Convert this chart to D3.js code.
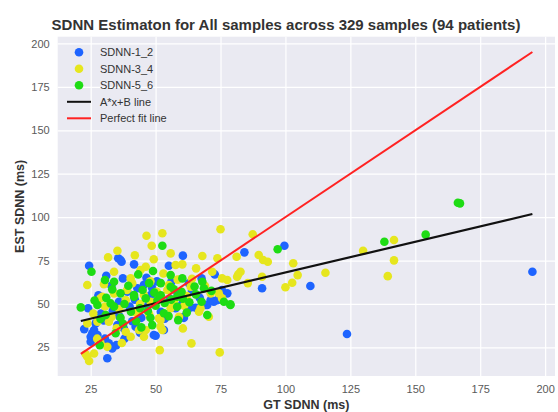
<!DOCTYPE html>
<html>
<head>
<meta charset="utf-8">
<script src="https://cdn.jsdelivr.net/npm/d3@7"></script>
<style>
  body {margin: 0; background: #fff; font-family: 'Liberation Sans', Arial, sans-serif;}
</style>
</head>
<body>
<div id='graph'></div>
<script>

var title = 'SDNN Estimaton for All samples across 329 samples (94 patients)'
var xTicks = [25, 50, 75, 100, 125, 150, 175, 200]
var yTicks = [25, 50, 75, 100, 125, 150, 175, 200]

// [GT, EST] pairs
var sdnn12 = [[195.1,68.5],[123.7,32.7],[109.6,60.3],[99.6,83.5],[91.0,59.0],[84.2,79.7],[60.5,77.8],[55.1,72.0],[72.8,67.0],[67.7,64.7],[62.8,61.9],[77.6,56.1],[35.6,76.3],[36.9,74.3],[24.4,72.0],[41.7,72.8],[46.5,65.1],[31.0,66.2],[37.4,64.7],[43.0,59.0],[39.1,57.0],[48.7,59.0],[48.1,55.1],[35.9,51.3],[26.3,35.0],[27.6,32.1],[25.0,31.1],[25.0,28.2],[32.0,27.3],[34.9,26.3],[33.3,24.4],[31.4,18.7],[49.3,32.1],[42.3,36.9],[35.3,37.8],[37.8,35.9],[25.6,33.1],[26.9,38.8],[53.2,35.0],[60.9,42.0],[62.8,47.8],[65.4,47.8],[69.9,49.4],[72.4,51.3],[71.2,52.2],[57.7,47.5],[60.3,50.3],[50.0,31.7],[73.7,52.2],[69.2,49.4],[60.3,42.3],[63.5,48.0],[36.5,75.3],[29.0,44.5],[33.5,46.0],[40.0,48.5],[44.5,42.0],[52.0,45.5],[55.5,53.0],[47.0,49.0],[30.0,40.5],[38.0,30.0],[41.0,40.0],[58.5,56.0],[64.0,57.5],[45.5,61.0],[28.0,55.0],[50.5,63.0],[67.0,53.5],[33.0,60.5],[53.5,41.5],[22.5,35.5],[24.0,47.5],[75.5,58.0],[44.0,33.5],[36.0,43.0],[30.5,30.0],[56.0,62.5],[42.0,52.5]]

var sdnn34 = [[87.4,90.1],[81.2,77.2],[89.7,78.2],[91.4,75.3],[93.2,74.3],[82.7,68.5],[81.8,67.0],[91.0,65.7],[103.0,73.4],[104.7,66.6],[100.0,59.6],[102.6,62.2],[115.4,68.0],[129.9,80.6],[141.8,86.8],[141.8,75.1],[139.4,66.0],[75.0,93.0],[52.6,90.7],[46.5,89.3],[48.5,83.5],[55.8,79.1],[68.0,77.6],[73.8,76.3],[35.3,80.6],[31.7,76.8],[49.3,75.7],[57.7,72.4],[60.3,72.8],[65.6,70.5],[71.8,68.5],[75.6,64.7],[77.6,63.8],[63.5,59.9],[55.1,60.9],[74.3,56.1],[71.2,56.1],[46.2,71.4],[44.2,69.5],[34.0,68.5],[30.1,61.3],[40.4,64.7],[41.0,61.9],[23.7,60.9],[34.0,56.1],[45.5,55.1],[29.5,54.1],[28.8,53.2],[38.5,52.2],[48.1,51.3],[23.7,38.8],[27.6,39.7],[32.0,39.7],[28.8,27.3],[31.4,25.3],[23.7,19.6],[24.4,17.1],[26.3,21.5],[23.1,21.0],[45.5,31.1],[43.6,35.0],[40.4,31.1],[38.5,34.0],[46.2,35.0],[51.6,23.4],[63.8,27.3],[74.7,22.1],[60.5,35.9],[52.6,35.0],[51.9,40.7],[59.0,42.6],[66.7,45.5],[70.5,42.6],[75.6,53.2],[55.8,47.5],[51.3,41.7],[51.9,36.9],[67.3,47.5],[54.5,58.0],[81.4,65.7],[36.0,47.0],[42.5,45.0],[33.0,42.5],[47.5,44.0],[57.0,51.5],[62.0,54.5],[39.0,58.0],[44.0,50.0],[30.5,48.5],[26.0,44.5],[35.0,36.0],[53.0,67.5],[58.5,64.0],[48.0,63.0],[64.0,64.5],[27.5,30.0],[37.0,27.5],[69.0,60.5],[85.5,62.0],[42.0,78.0],[50.5,57.0],[61.0,49.0]]

var sdnn56 = [[166.4,108.3],[167.2,107.9],[154.0,89.9],[138.1,85.8],[97.0,81.5],[78.8,49.4],[52.6,83.5],[49.0,69.0],[43.3,67.0],[25.3,68.5],[30.5,63.8],[34.0,62.8],[33.3,58.4],[36.5,56.1],[41.7,55.1],[21.2,48.0],[27.6,49.4],[32.7,50.3],[41.7,54.1],[46.2,53.2],[50.7,52.2],[28.8,41.3],[30.8,43.6],[28.5,26.3],[34.6,33.1],[48.7,37.8],[53.2,44.6],[58.7,40.7],[67.7,51.3],[69.9,43.6],[76.3,51.3],[78.8,49.8],[58.3,48.4],[55.8,66.6],[60.3,64.7],[68.0,62.8],[68.6,59.0],[58.3,54.1],[55.8,59.9],[38.0,50.0],[44.0,47.5],[47.0,46.0],[50.0,49.0],[53.5,50.5],[56.0,52.5],[60.5,53.0],[63.0,51.0],[65.5,55.5],[45.0,58.0],[49.5,56.5],[52.0,55.0],[40.5,45.5],[36.5,42.0],[42.5,40.0],[34.0,48.5],[31.0,53.5],[62.0,45.0],[57.0,58.5],[47.5,62.0],[39.5,60.5],[26.5,52.0],[71.5,57.5],[65.0,60.0],[44.5,36.5],[37.5,38.5],[55.0,43.0],[48.0,42.0],[52.0,62.0],[60.0,57.0]]

var seriesNames = ['SDNN-1_2', 'SDNN-3_4', 'SDNN-5_6']
var seriesColors = ['#1e64ff', '#e6e61e', '#1edc14']
var fitA = 0.354, fitB = 32.7

var width = 558, height = 412
var margin = {left: 57.7, right: 3, top: 36.7, bottom: 36}

var svg = d3.select('#graph').append('svg')
  .attr('width', width).attr('height', height)

var x = d3.scaleLinear().domain([12.3, 203.8]).range([margin.left, width - margin.right])
var y = d3.scaleLinear().domain([8.5, 203.9]).range([height - margin.bottom, margin.top])

svg.append('rect')
  .attr('x', x.range()[0]).attr('y', y.range()[1])
  .attr('width', x.range()[1] - x.range()[0])
  .attr('height', y.range()[0] - y.range()[1])
  .attr('fill', '#eaeaf2')

var xAxis = svg.append('g')
  .attr('transform', `translate(0,${y.range()[0]})`)
  .call(d3.axisBottom(x).tickValues(xTicks).tickSize(-(y.range()[0] - y.range()[1])).tickPadding(9))
var yAxis = svg.append('g')
  .attr('transform', `translate(${x.range()[0]},0)`)
  .call(d3.axisLeft(y).tickValues(yTicks).tickSize(-(x.range()[1] - x.range()[0])).tickPadding(8))

;[xAxis, yAxis].forEach(sel => {
  sel.select('.domain').remove()
  sel.selectAll('line').attr('stroke', '#fff').attr('stroke-width', 1.2)
  sel.selectAll('text').attr('fill', '#5a5a5a').style('font-size', '11px').style('font-family', 'Liberation Sans, Arial, sans-serif')
})

var all = [sdnn12, sdnn34, sdnn56]
all.forEach((pts, i) => {
  svg.append('g').selectAll('circle').data(pts).join('circle')
    .attr('cx', d => x(d[0]))
    .attr('cy', d => y(d[1]))
    .attr('r', 4.3)
    .attr('fill', seriesColors[i])
})

var gt = all.flat().map(d => d[0])
var gtExt = d3.extent(gt)

svg.append('line')
  .attr('x1', x(gtExt[0])).attr('y1', y(fitA*gtExt[0] + fitB))
  .attr('x2', x(gtExt[1])).attr('y2', y(fitA*gtExt[1] + fitB))
  .attr('stroke', '#111').attr('stroke-width', 2.2)

svg.append('line')
  .attr('x1', x(gtExt[0])).attr('y1', y(gtExt[0]))
  .attr('x2', x(gtExt[1])).attr('y2', y(gtExt[1]))
  .attr('stroke', '#ff2222').attr('stroke-width', 2)

// legend
var legend = svg.append('g').attr('transform', 'translate(79,52.3)')
var items = seriesNames.map((d, i) => ({name: d, color: seriesColors[i], type: 'dot'}))
  .concat([{name: 'A*x+B line', color: '#111', type: 'line'}, {name: 'Perfect fit line', color: '#ff2222', type: 'line'}])

var itemSel = legend.selectAll('g').data(items).join('g')
  .attr('transform', (d, i) => `translate(0,${i*16.5})`)

itemSel.filter(d => d.type == 'dot').append('circle')
  .attr('r', 4.3).attr('fill', d => d.color)
itemSel.filter(d => d.type == 'line').append('line')
  .attr('x1', -12).attr('x2', 12)
  .attr('stroke', d => d.color).attr('stroke-width', 2)
itemSel.append('text')
  .attr('x', 21).attr('dy', '0.35em')
  .text(d => d.name)
  .attr('fill', '#333').style('font-size', '11px')

svg.append('text')
  .attr('x', 286).attr('y', 29.5)
  .attr('text-anchor', 'middle')
  .style('font-size', '15px').style('font-weight', 'bold').attr('fill', '#333')
  .text(title)

svg.append('text')
  .attr('x', (x.range()[0] + x.range()[1])/2).attr('y', 409)
  .attr('text-anchor', 'middle')
  .style('font-size', '12.5px').style('font-weight', 'bold').attr('fill', '#333')
  .text('GT SDNN (ms)')

svg.append('text')
  .attr('transform', `translate(24,${(y.range()[0] + y.range()[1])/2}) rotate(-90)`)
  .attr('text-anchor', 'middle')
  .style('font-size', '12.5px').style('font-weight', 'bold').attr('fill', '#333')
  .text('EST SDNN (ms)')

</script>
</body>
</html>
